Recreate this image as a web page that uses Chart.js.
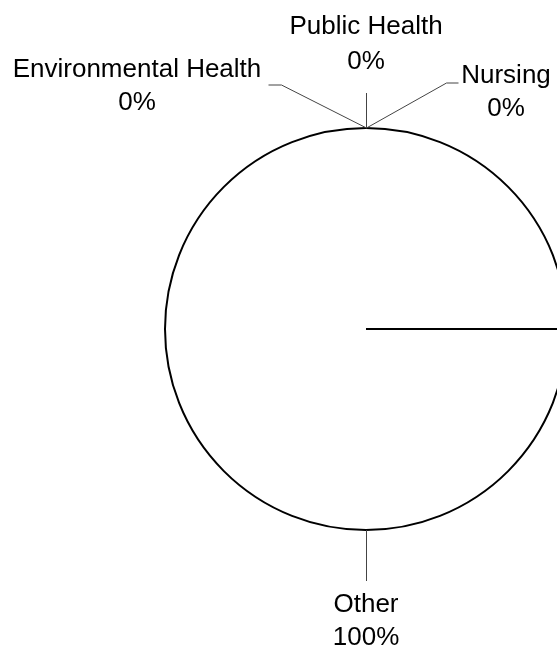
<!DOCTYPE html>
<html>
<head>
<meta charset="utf-8">
<script src="https://cdn.jsdelivr.net/npm/chart.js@4"></script>
<style>
  html, body { margin: 0; padding: 0; background: #fff; overflow: hidden; }
  #wrap { width: 600px; height: 650px; position: relative; }
</style>
</head>
<body>
<div id="wrap"><canvas id="pieChart"></canvas></div>
<script>
const categories = ['Other', 'Environmental Health', 'Public Health', 'Nursing'];
const shares = [100, 0, 0, 0];

// leader line points and text spot, relative to where the label hooks onto the circle
const leaders = {
  'Other': { pts: [[0, 0], [0, 51]], tx: 0, lines: [82, 115] },
  'Environmental Health': { pts: [[0, 0], [-85, -43], [-98, -43]], tx: -229, lines: [-51, -18] },
  'Public Health': { pts: [[0, 0], [0, -35]], tx: 0, lines: [-94, -59] },
  'Nursing': { pts: [[0, 0], [80, -45], [92, -45]], tx: 140, lines: [-45, -12] }
};

const pieLabels = {
  id: 'pieLabels',
  afterDatasetsDraw(chart) {
    const ctx = chart.ctx;
    const arc = chart.getDatasetMeta(0).data[0];
    const cx = arc.x, cy = arc.y, r = arc.outerRadius;
    const total = shares.reduce((a, b) => a + b, 0);
    ctx.save();
    ctx.font = '26px "Liberation Sans", Arial, sans-serif';
    ctx.textAlign = 'center';
    ctx.textBaseline = 'alphabetic';
    categories.forEach((name, i) => {
      const lay = leaders[name];
      const ax = cx + 0.5;
      const ay = shares[i] > 0 ? cy + r : cy - r;
      ctx.strokeStyle = '#444';
      ctx.lineWidth = 1;
      ctx.beginPath();
      lay.pts.forEach(([dx, dy], k) => {
        if (k === 0) ctx.moveTo(ax + dx, ay + dy);
        else ctx.lineTo(ax + dx, ay + dy);
      });
      ctx.stroke();
      const pct = Math.round(shares[i] / total * 100) + '%';
      ctx.fillStyle = '#000';
      ctx.fillText(name, cx + lay.tx, ay + lay.lines[0]);
      ctx.fillText(pct, cx + lay.tx, ay + lay.lines[1]);
    });
    ctx.restore();
  }
};

const ctx = document.getElementById('pieChart').getContext('2d');
const chart = new Chart(ctx, {
  type: 'pie',
  data: {
    labels: categories,
    datasets: [
      {
        data: shares,
        backgroundColor: '#ffffff',
        borderColor: '#000000',
        borderWidth: 2,
        hoverOffset: 0
      }
    ]
  },
  options: {
    responsive: true,
    maintainAspectRatio: false,
    animation: false,
    rotation: 90,
    layout: { padding: { top: 127, bottom: 119, left: 164, right: 32 } },
    plugins: {
      legend: { display: false },
      tooltip: { enabled: false }
    }
  },
  plugins: [pieLabels]
});
</script>
</body>
</html>
